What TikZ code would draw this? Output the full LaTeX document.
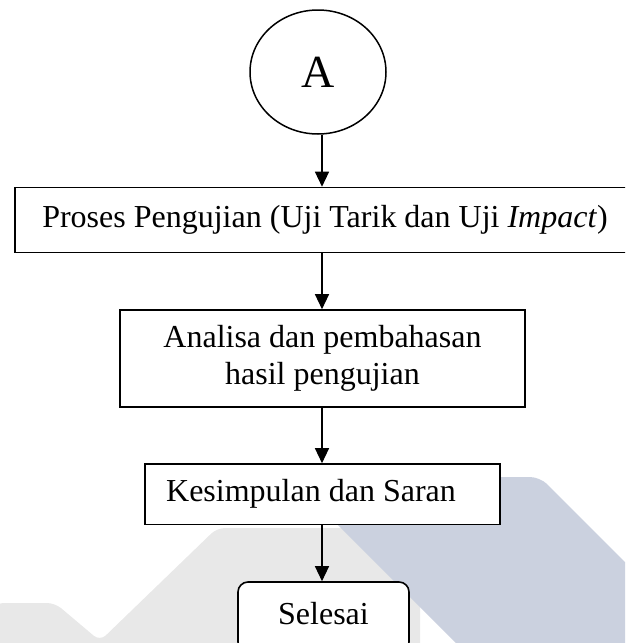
\documentclass[tikz,border=0pt]{standalone}
\usepackage{fontspec}
\setmainfont{Liberation Serif}
\usetikzlibrary{arrows.meta,shapes.geometric}
\definecolor{wmgray}{RGB}{232,232,232}
\definecolor{wmblue}{RGB}{203,209,223}
\begin{document}
\begin{tikzpicture}[x=1pt,y=-1pt,
  box/.style={draw, line width=1.6pt, inner sep=0pt, font=\fontsize{32}{36.8}\selectfont},
  oneline/.style={text height=21pt, text depth=7pt},
  arr/.style={line width=1.3pt, -{Triangle[length=15pt,width=14pt]}}]
\clip (0,0) rectangle (625,643);
% watermark
\fill[wmgray, rounded corners=8pt] (-5,603) -- (55,603) -- (100,641) -- (217,528) -- (420,528) -- (420,660) -- (-5,660) -- cycle;
\fill[wmblue, rounded corners=10pt] (290,477) -- (540,477) -- (640,577) -- (640,660) -- (473,660) -- cycle;
% nodes
\coordinate (spine) at (322,0);
\node[draw, ellipse, line width=1.5pt, minimum width=136pt, minimum height=124pt, inner sep=0pt,
      font=\fontsize{46}{46}\selectfont] (A) at (318,72) {A};
\node[box, oneline, fill=white, minimum width=620pt, minimum height=65pt] (p1) at (325,220)
  {Proses Pengujian (Uji Tarik dan Uji \textit{Impact})};
\node[box, fill=white, align=center, minimum width=405pt, minimum height=97pt] (p2) at (322.5,358.5)
  {Analisa dan pembahasan\\hasil pengujian};
\node[box, oneline, fill=white, minimum width=355pt, minimum height=60.5pt] (p3) at (322.5,494.25)
  {Kesimpulan dan Saran\kern23pt};
\node[box, oneline, fill=white, rounded corners=10pt, minimum width=171pt, minimum height=70pt] (p4) at (323.5,617)
  {Selesai};
% connectors
\draw[arr] (A.south -| spine) -- (p1.north -| spine);
\draw[arr] (p1.south -| spine) -- (p2.north -| spine);
\draw[arr] (p2.south -| spine) -- (p3.north -| spine);
\draw[arr] (p3.south -| spine) -- (p4.north -| spine);
\end{tikzpicture}
\end{document}
